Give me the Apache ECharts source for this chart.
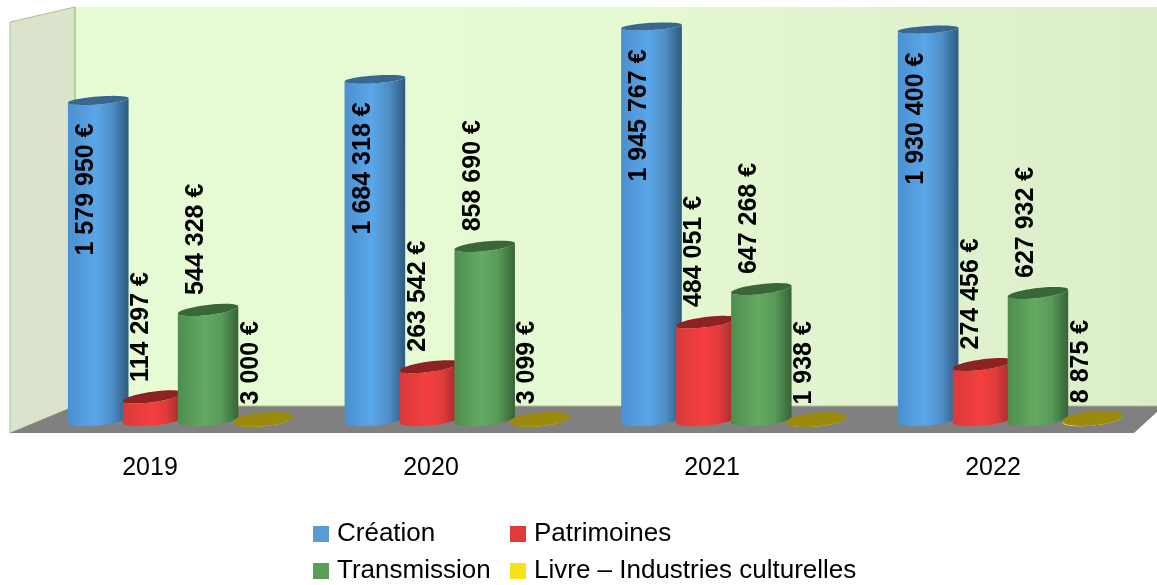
<!DOCTYPE html>
<html><head><meta charset="utf-8">
<style>html,body{margin:0;padding:0;background:#fff}#c{width:1157px;height:585px}</style>
<script src="https://cdn.jsdelivr.net/npm/echarts@6/dist/echarts.min.js"></script>
</head><body><div id="c"></div>
<script>
const years = ['2019','2020','2021','2022'];
const creation = [1579950,1684318,1945767,1930400];
const patrimoines = [114297,263542,484051,274456];
const transmission = [544328,858690,647268,627932];
const livre = [3000,3099,1938,8875];
const names = ['Création','Patrimoines','Transmission','Livre – Industries culturelles'];
const FONT = '"Liberation Sans", Arial, sans-serif';
const looks = [
 {legend:'#5b9bd5', stops:['#4b90d0','#5aa6e8','#4f8fc8','#2f5a7e'], top:'#38688f'},
 {legend:'#e03a3a', stops:['#d93a3a','#f53f3f','#e03b3b','#952828'], top:'#8e2222'},
 {legend:'#5a9e5a', stops:['#4f8c4f','#62ab62','#599a59','#376337'], top:'#38683a'},
 {legend:'#f5e11e', stops:['#f3dc14','#f3dc14','#f3dc14','#c9b510'], top:'#9c8a0c'}
];
function fmt(v){ return String(v).replace(/\B(?=(\d{3})+$)/g,' ') + ' €'; }
function ellipsePts(cx,cy,rx,ry,deg,from,to){
  const a=deg*Math.PI/180, pts=[], n=48;
  for(let i=0;i<=n;i++){
    const t=from+(to-from)*i/n, x=rx*Math.cos(t), y=ry*Math.sin(t);
    pts.push([cx+x*Math.cos(a)+y*Math.sin(a), cy-x*Math.sin(a)+y*Math.cos(a)]);
  }
  return pts;
}
function renderer(si){
  return function(params,api){
    const cat=api.value(0), val=api.value(1);
    const base=api.coord([cat,0]), top=api.coord([cat,val]);
    const band=api.size([1,0])[0];
    const cx=base[0]+(si-1.5)*band*0.1985, rx=band*0.11;
    const yB=base[1]-0.5, yT=top[1];
    const tiltT=si===3?5.5:3+5*yT/400;
    const ryT=si===3?6.9:Math.min(5.2,3.5+1.6*yT/320);
    const tiltB=6, ryB=6;
    const look=looks[si];
    const bodyPts=ellipsePts(cx,yB,rx,ryB,tiltB,Math.PI,0)
      .concat(ellipsePts(cx,yT,rx,ryT,tiltT,0,Math.PI));
    const grad=new echarts.graphic.LinearGradient(0,0,1,0,[
      {offset:0,color:look.stops[0]},{offset:.45,color:look.stops[1]},
      {offset:.72,color:look.stops[2]},{offset:1,color:look.stops[3]}]);
    const children=[
      {type:'polygon',shape:{points:bodyPts},style:{fill:grad}},
      {type:'polygon',shape:{points:ellipsePts(cx,yT,rx,ryT,tiltT,0,Math.PI*2)},style:{fill:look.top}}
    ];
    const inside=val>1500000;
    children.push({type:'text',x:cx-12,y:inside?yT+23:yT-15,rotation:Math.PI/2,z2:10,
      style:{text:fmt(val),font:'bold 25px '+FONT,fill:'#000',
        align:inside?'right':'left',verticalAlign:'middle'}});
    return {type:'group',children};
  };
}
const seriesValues=[creation,patrimoines,transmission,livre];
const series=seriesValues.map((vals,si)=>({
  type:'custom',name:names[si],xAxisIndex:0,yAxisIndex:0,
  itemStyle:{color:looks[si].legend},
  encode:{x:0,y:1},clip:false,
  data:vals.map((v,i)=>[i,v]),
  renderItem:renderer(si)
}));
const legendBase={orient:'vertical',icon:'rect',itemWidth:16,itemHeight:16,itemGap:11,
  textStyle:{fontFamily:FONT,fontSize:26,color:'#000',padding:[0,0,0,3]},selectedMode:false,top:521,padding:0};
const chart=echarts.init(document.getElementById('c'),null,{renderer:'canvas'});
chart.setOption({
  animation:false,backgroundColor:'#fff',
  grid:[{left:42.3,width:1106.5,top:15.5,height:404.5},{left:9.5,width:1124,top:18.5,height:415}],
  xAxis:[
    {type:'category',gridIndex:0,data:years,axisLine:{show:false},axisTick:{show:false},axisLabel:{show:false}},
    {type:'category',gridIndex:1,data:years,axisLine:{show:false},axisTick:{show:false},
     axisLabel:{fontFamily:FONT,fontSize:25,color:'#000',margin:22}}
  ],
  yAxis:[
    {type:'value',gridIndex:0,min:0,max:2000000,show:false},
    {type:'value',gridIndex:1,min:0,max:2000000,show:false}
  ],
  legend:[
    Object.assign({},legendBase,{left:313,data:[names[0],names[2]]}),
    Object.assign({},legendBase,{left:510,data:[names[1],names[3]]})
  ],
  graphic:{elements:[
    {type:'rect',silent:true,z:-10,shape:{x:75,y:7,width:1082,height:399},
     style:{fill:new echarts.graphic.LinearGradient(0,0,1,0,[{offset:0,color:'#e7fcd4'},{offset:.5,color:'#e5f9d2'},{offset:1,color:'#dcedca'}])}},
    {type:'polygon',silent:true,z:-9,shape:{points:[[10,22],[75,7],[75,406],[10,433]]},
     style:{fill:'#dbe3cd',stroke:'#a8c190',lineWidth:1}},
    {type:'line',silent:true,z:-8,shape:{x1:75,y1:7,x2:75,y2:406},style:{stroke:'#9ecb7c',lineWidth:1}},
    {type:'polygon',silent:true,z:-7,shape:{points:[[10,433],[75,406],[1157,406],[1157,412],[1134,433]]},
     style:{fill:'#808080'}},
    {type:'line',silent:true,z:-6,shape:{x1:75,y1:406,x2:1157,y2:406},style:{stroke:'#a8c190',lineWidth:1}}
  ]},
  series
});
</script></body></html>
